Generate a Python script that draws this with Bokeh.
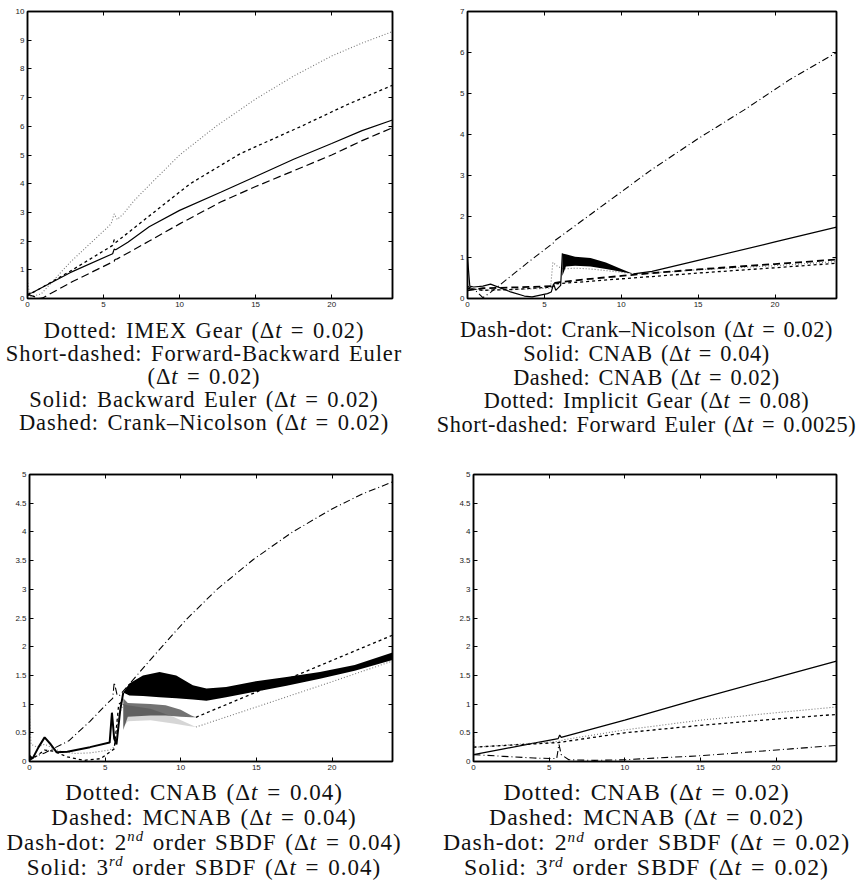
from bokeh.plotting import figure
from bokeh.models import Range1d, FixedTicker, LinearAxis, Div
from bokeh.layouts import column, row
from bokeh.embed import file_html
from bokeh.resources import INLINE

# ---------------- ticks ----------------
x_ticks = [0, 5, 10, 15, 20]
y_ticks_1 = [0, 1, 2, 3, 4, 5, 6, 7, 8, 9, 10]
y_ticks_2 = [0, 1, 2, 3, 4, 5, 6, 7]
y_ticks_34 = [0, 0.5, 1, 1.5, 2, 2.5, 3, 3.5, 4, 4.5, 5]
y_tick_labels_34 = ["0", "0.5", "1", "1.5", "2", "2.5", "3", "3.5", "4", "4.5", "5"]

# ---------------- panel 1 ----------------
p1_dotted_x = [0, 0.15, 0.9, 2.8, 5.5, 5.7, 5.9, 6.3, 7.0, 7.65, 10, 12.4, 15, 17.5, 20, 22, 24]
p1_dotted_y = [0.65, 0.05, 0.16, 1.26, 2.6, 2.95, 2.75, 2.95, 3.4, 3.76, 5.0, 6.0, 6.95, 7.75, 8.45, 8.9, 9.3]
p1_short_x = [0, 1, 2.8, 5.6, 5.7, 5.8, 8.3, 10.7, 14, 18, 21, 24]
p1_short_y = [0.1, 0.4, 0.95, 1.85, 2.05, 1.95, 3.0, 4.0, 5.05, 6.0, 6.75, 7.43]
p1_solid_x = [0, 0.3, 2.8, 5.6, 5.7, 5.8, 6.6, 8, 10, 12.7, 15, 17.5, 20, 22, 24]
p1_solid_y = [0.15, 0.2, 0.9, 1.56, 1.72, 1.7, 1.96, 2.5, 3.07, 3.7, 4.25, 4.85, 5.4, 5.85, 6.22]
p1_dashed_x = [0, 0.8, 1.0, 3, 5.7, 5.75, 5.9, 8, 10, 12.7, 15, 17.5, 20, 22, 24]
p1_dashed_y = [0.15, 0.0, 0.02, 0.6, 1.3, 1.36, 1.38, 2.0, 2.6, 3.36, 3.9, 4.45, 5.0, 5.5, 5.95]

# ---------------- panel 2 ----------------
p2_dashdot_x = [0, 0.5, 1.0, 1.5, 2, 3, 4, 5.6, 5.7, 6, 8, 10, 12, 15, 18, 21, 24]
p2_dashdot_y = [0.3, 0.2, 0.02, 0.15, 0.3, 0.6, 0.9, 1.36, 1.42, 1.5, 2.05, 2.6, 3.15, 3.9, 4.6, 5.35, 6.0]
p2_solid_x = [0, 0.15, 0.4, 1.0, 1.5, 2.8, 3.7, 4.2, 5.2, 5.45, 5.6, 5.74, 6.06, 6.17]
p2_solid_y = [1.0, 0.3, 0.28, 0.3, 0.35, 0.16, 0.06, 0.04, 0.12, 0.16, 0.36, 0.2, 0.32, 1.1]
p2_band_x = [6.17, 6.4, 7.0, 8.0, 9.0, 10.0, 10.8]
p2_band_hi = [1.1, 1.08, 1.02, 0.99, 0.88, 0.72, 0.6]
p2_band_lo = [0.55, 0.78, 0.8, 0.78, 0.72, 0.65, 0.6]
p2_solid2_x = [10.8, 12, 15, 20, 24]
p2_solid2_y = [0.6, 0.66, 0.93, 1.38, 1.74]
p2_dashed_x = [0, 1, 3, 5.5, 5.7, 6, 8, 10, 12, 15, 20, 24]
p2_dashed_y = [0.2, 0.25, 0.27, 0.3, 0.38, 0.4, 0.48, 0.55, 0.62, 0.71, 0.84, 0.95]
p2_dotted_x = [0, 1, 3, 5.4, 5.55, 5.8, 6.2, 7, 8, 9, 10, 11, 15, 20, 24]
p2_dotted_y = [0.25, 0.2, 0.22, 0.25, 0.88, 0.8, 0.72, 0.74, 0.72, 0.68, 0.64, 0.6, 0.7, 0.8, 0.9]
p2_short_x = [0, 1, 3, 5.5, 5.8, 8, 10, 15, 20, 24]
p2_short_y = [0.25, 0.2, 0.22, 0.28, 0.36, 0.42, 0.48, 0.62, 0.75, 0.86]

# ---------------- panel 3 ----------------
p3_dashdot_x = [0, 1, 2.6, 4, 5.1, 5.5, 5.6, 5.8, 5.95, 7, 8.15, 10.35, 12.4, 14.8, 17.4, 20, 22, 24]
p3_dashdot_y = [0.05, 0.15, 0.36, 0.7, 1.0, 1.1, 1.38, 1.15, 1.15, 1.47, 1.82, 2.47, 3.0, 3.52, 4.0, 4.4, 4.66, 4.87]
p3_solid_x = [0, 0.2, 0.6, 1.0, 1.4, 1.8, 2.5, 4, 5.3, 5.45, 5.6, 5.75, 6.0, 6.2]
p3_solid_y = [0.1, 0.05, 0.25, 0.42, 0.3, 0.16, 0.17, 0.25, 0.33, 0.85, 0.4, 0.3, 0.9, 1.2]
p3_band_x = [6.2, 6.6, 7.5, 8.6, 9.7, 10.8, 11.7, 13, 14.8, 17, 19.2, 21.5, 24]
p3_band_hi = [1.2, 1.36, 1.5, 1.56, 1.5, 1.33, 1.27, 1.3, 1.39, 1.47, 1.56, 1.68, 1.9]
p3_band_lo = [1.2, 1.15, 1.14, 1.12, 1.1, 1.08, 1.06, 1.12, 1.21, 1.32, 1.44, 1.58, 1.77]
p3_dashed_x = [0, 0.5, 1, 1.6, 2.5, 3.6, 4.7, 5.6, 5.75, 5.9, 6.2]
p3_dashed_y = [0.02, 0.1, 0.2, 0.18, 0.08, 0.02, 0.05, 0.22, 0.6, 1.0, 1.05]
p3_dband_x = [6.2, 6.5, 8, 9, 10, 10.7, 11]
p3_dband_hi = [1.1, 1.02, 1.0, 0.98, 0.9, 0.8, 0.77]
p3_dband_lo = [0.55, 0.78, 0.8, 0.8, 0.78, 0.77, 0.77]
p3_dashed2_x = [11, 15, 20, 24]
p3_dashed2_y = [0.77, 1.21, 1.76, 2.2]
p3_dotted_x = [0, 0.1, 0.5, 1, 2, 3, 4, 5.3, 5.6, 5.9, 6.2]
p3_dotted_y = [0.85, 0.3, 0.25, 0.3, 0.18, 0.14, 0.15, 0.2, 0.25, 0.8, 1.0]
p3_fan_x = [6.2, 6.5, 8, 9.5, 10.5, 11]
p3_fan_hi = [1.0, 0.98, 0.92, 0.78, 0.66, 0.6]
p3_fan_lo = [0.6, 0.7, 0.72, 0.66, 0.62, 0.6]
p3_dotted2_x = [11, 15, 20, 24]
p3_dotted2_y = [0.6, 0.95, 1.39, 1.75]

# ---------------- panel 4 ----------------
p4_solid_x = [0, 2, 4, 5.6, 5.7, 5.8, 10, 15, 20, 24]
p4_solid_y = [0.12, 0.22, 0.32, 0.4, 0.46, 0.42, 0.72, 1.1, 1.46, 1.75]
p4_dotted_x = [0, 0.05, 0.2, 5.6, 6, 10, 15, 20, 24]
p4_dotted_y = [0.5, 0.25, 0.25, 0.35, 0.38, 0.55, 0.72, 0.85, 0.95]
p4_dashed_x = [0, 5.6, 10, 15, 20, 24]
p4_dashed_y = [0.25, 0.33, 0.5, 0.63, 0.74, 0.82]
p4_dashdot_x = [0, 2, 4, 5.5, 5.65, 5.8, 6.3, 8, 10, 12, 15, 18, 21, 24]
p4_dashdot_y = [0.12, 0.09, 0.06, 0.05, 0.3, 0.12, 0.03, 0.02, 0.03, 0.06, 0.1, 0.16, 0.22, 0.28]

# ---------------- captions ----------------
cap1 = ["Dotted: IMEX Gear (\u0394<i>t</i> = 0.02)",
        "Short-dashed: Forward-Backward Euler",
        "(\u0394<i>t</i> = 0.02)",
        "Solid: Backward Euler (\u0394<i>t</i> = 0.02)",
        "Dashed: Crank\u2013Nicolson (\u0394<i>t</i> = 0.02)"]
cap2 = ["Dash-dot: Crank\u2013Nicolson (\u0394<i>t</i> = 0.02)",
        "Solid: CNAB (\u0394<i>t</i> = 0.04)",
        "Dashed: CNAB (\u0394<i>t</i> = 0.02)",
        "Dotted: Implicit Gear (\u0394<i>t</i> = 0.08)",
        "Short-dashed: Forward Euler (\u0394<i>t</i> = 0.0025)"]
SUP = ('<span style="font-size:64%;font-style:italic;vertical-align:top;'
       'line-height:1;position:relative;top:-0.05em;">{}</span>')
cap3 = ["Dotted: CNAB (\u0394<i>t</i> = 0.04)",
        "Dashed: MCNAB (\u0394<i>t</i> = 0.04)",
        "Dash-dot: 2" + SUP.format("nd") + " order SBDF (\u0394<i>t</i> = 0.04)",
        "Solid: 3" + SUP.format("rd") + " order SBDF (\u0394<i>t</i> = 0.04)"]
cap4 = ["Dotted: CNAB (\u0394<i>t</i> = 0.02)",
        "Dashed: MCNAB (\u0394<i>t</i> = 0.02)",
        "Dash-dot: 2" + SUP.format("nd") + " order SBDF (\u0394<i>t</i> = 0.02)",
        "Solid: 3" + SUP.format("rd") + " order SBDF (\u0394<i>t</i> = 0.02)"]

DOT = dict(line_color="#777777", line_dash="1 2", line_width=1.1)
SHORT = dict(line_color="black", line_dash="3 3", line_width=1.3)
DASH = dict(line_color="black", line_dash="8 4", line_width=1.2)
DASHDOT = dict(line_color="black", line_dash="7 3 1 3", line_width=1.1)
SOLID = dict(line_color="black", line_width=1.2)


def style_axis(ax, ticks, labels=None, show=True):
    ax.ticker = FixedTicker(ticks=ticks)
    ax.major_tick_in = 4
    ax.major_tick_out = 0
    ax.minor_tick_in = 0
    ax.minor_tick_out = 0
    ax.axis_line_width = 1.5
    ax.axis_line_color = "black"
    ax.major_tick_line_color = "black"
    ax.major_tick_line_width = 1
    if show:
        ax.major_label_text_font = "Liberation Sans"
        ax.major_label_text_font_size = "8px"
        ax.major_label_text_color = "#222222"
        ax.major_label_standoff = 3
        if labels is not None:
            ax.major_label_overrides = {t: l for t, l in zip(ticks, labels)}
    else:
        ax.major_label_text_color = None
        ax.major_label_text_font_size = "0px"
        ax.major_label_standoff = 0


def make_panel(width, height, left, right, top, bottom, ymax, yticks, ylabels=None):
    p = figure(width=width, height=height, x_range=Range1d(0, 24), y_range=Range1d(0, ymax),
               output_backend="svg", toolbar_location=None,
               min_border_left=left, min_border_right=right,
               min_border_top=top, min_border_bottom=bottom)
    p.grid.visible = False
    p.outline_line_color = "black"
    p.outline_line_width = 1.5
    p.background_fill_color = "white"
    p.border_fill_color = "white"
    style_axis(p.xaxis[0], x_ticks, [str(t) for t in x_ticks])
    style_axis(p.yaxis[0], yticks, ylabels if ylabels else [str(t) for t in yticks])
    top_ax = LinearAxis()
    style_axis(top_ax, x_ticks, show=False)
    p.add_layout(top_ax, "above")
    right_ax = LinearAxis()
    style_axis(right_ax, yticks, show=False)
    p.add_layout(right_ax, "right")
    return p


def caption(lines, width, height, inner_w, font_px, line_h, pad_top, letter):
    html = ('<div style="width:%dpx;text-align:center;font-family:\'Liberation Serif\',serif;'
            'font-size:%spx;line-height:%spx;padding-top:%spx;letter-spacing:%spx;'
            'word-spacing:2px;white-space:nowrap;color:#111;">' % (inner_w, font_px, line_h, pad_top, letter)
            + "<br>".join(lines) + "</div>")
    return Div(text=html, width=width, height=height, margin=0)


# panel 1
f1 = make_panel(430, 312, 27, 38, 11, 14, 10, y_ticks_1)
f1.line(p1_dotted_x, p1_dotted_y, **DOT)
f1.line(p1_short_x, p1_short_y, **SHORT)
f1.line(p1_solid_x, p1_solid_y, **SOLID)
f1.line(p1_dashed_x, p1_dashed_y, **DASH)

# panel 2
f2 = make_panel(433, 312, 37, 27, 7, 14, 7, y_ticks_2)
f2.line(p2_dashdot_x, p2_dashdot_y, **DASHDOT)
f2.line(p2_dotted_x, p2_dotted_y, **DOT)
f2.line(p2_short_x, p2_short_y, **SHORT)
f2.line(p2_dashed_x, p2_dashed_y, line_color="black", line_dash="7 4", line_width=1.8)
f2.line(p2_solid_x, p2_solid_y, **SOLID)
f2.varea(x=p2_band_x, y1=p2_band_lo, y2=p2_band_hi, fill_color="black")
f2.line(p2_solid2_x, p2_solid2_y, **SOLID)

# panel 3
f3 = make_panel(430, 333, 29, 38, 32, 14, 5, y_ticks_34, y_tick_labels_34)
f3.line(p3_dashdot_x, p3_dashdot_y, **DASHDOT)
f3.varea(x=p3_fan_x, y1=p3_fan_lo, y2=p3_fan_hi, fill_color="#999999", fill_alpha=0.4)
f3.line(p3_dotted_x, p3_dotted_y, **DOT)
f3.line(p3_dotted2_x, p3_dotted2_y, **DOT)
f3.varea(x=p3_dband_x, y1=p3_dband_lo, y2=p3_dband_hi, fill_color="black", fill_alpha=0.55)
f3.line(p3_dashed_x, p3_dashed_y, **SHORT)
f3.line(p3_dashed2_x, p3_dashed2_y, **SHORT)
f3.line(p3_solid_x, p3_solid_y, line_color="black", line_width=2)
f3.varea(x=p3_band_x, y1=p3_band_lo, y2=p3_band_hi, fill_color="black")

# panel 4
f4 = make_panel(433, 333, 43, 27, 32, 14, 5, y_ticks_34, y_tick_labels_34)
f4.line(p4_solid_x, p4_solid_y, **SOLID)
f4.line(p4_dotted_x, p4_dotted_y, **DOT)
f4.line(p4_dashed_x, p4_dashed_y, **SHORT)
f4.line(p4_dashdot_x, p4_dashdot_y, **DASHDOT)

c1 = caption(cap1, 430, 130, 408, 22.5, 23, 6.5, 0.9)
c2 = caption(cap2, 433, 130, 433, 22.3, 23.8, 6, 0.6)
c3 = caption(cap3, 430, 108, 408, 23, 25, 4.5, 1.0)
c4 = caption(cap4, 433, 108, 433, 23.8, 25, 4.5, 1.0)

layout = column(row(f1, f2), row(c1, c2), row(f3, f4), row(c3, c4))
open("out.html", "w").write(file_html(layout, INLINE))
